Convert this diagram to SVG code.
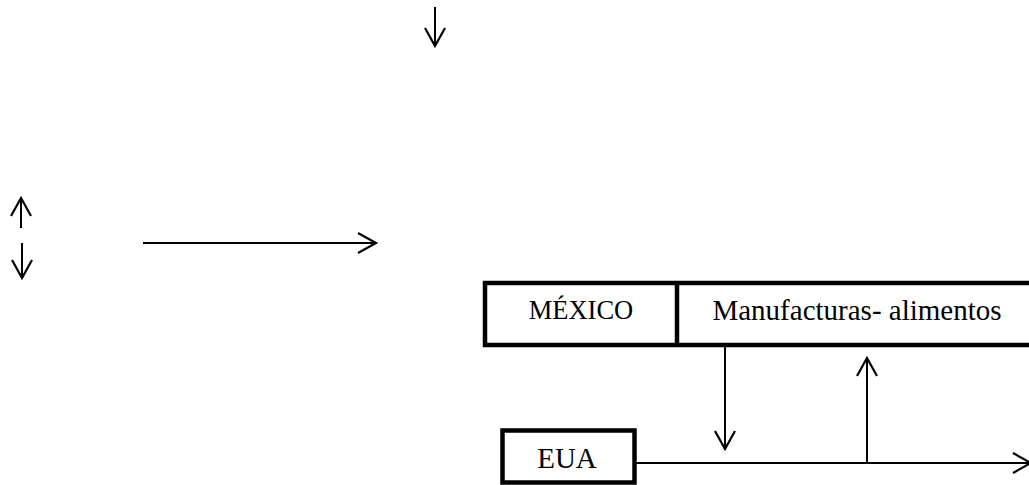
<svg xmlns="http://www.w3.org/2000/svg" width="1029" height="485" viewBox="0 0 1029 485">
  <style>
    .box { fill: #ffffff; stroke: #000000; stroke-width: 4.5; }
    .lbl { font-family: "Liberation Serif", "Times New Roman", serif; fill: #000000; }
    .flow { stroke: #000000; stroke-width: 2; fill: none; }
  </style>
  <defs>
    <marker id="open" markerUnits="userSpaceOnUse" markerWidth="24" markerHeight="24" viewBox="-20 -12 24 24" refX="0" refY="0" orient="auto">
      <path d="M-18,-10 L0,0 L-18,10" fill="none" stroke="#000000" stroke-width="2.2" stroke-linejoin="miter"/>
    </marker>
  </defs>
  <rect width="1029" height="485" fill="#ffffff"/>

  <g id="mexico">
    <rect class="box" x="485" y="283" width="560" height="62"/>
    <line x1="677" y1="283" x2="677" y2="345" stroke="#000000" stroke-width="4.5"/>
    <text class="lbl" x="581" y="319" font-size="26.5" text-anchor="middle">MÉXICO</text>
  </g>

  <g id="manufacturas">
    <text class="lbl" x="857" y="320" font-size="29" text-anchor="middle">Manufacturas- alimentos</text>
  </g>

  <g id="eua">
    <rect class="box" x="502.5" y="430.5" width="132" height="52"/>
    <text class="lbl" x="567" y="468" font-size="29" text-anchor="middle">EUA</text>
  </g>

  <g id="connectors">
    <!-- loose arrows -->
    <line class="flow" x1="435" y1="7" x2="435" y2="46" marker-end="url(#open)"/>
    <line class="flow" x1="21" y1="228" x2="21" y2="198" marker-end="url(#open)"/>
    <line class="flow" x1="22" y1="243" x2="22" y2="278" marker-end="url(#open)"/>
    <line class="flow" x1="143" y1="243" x2="376" y2="243" marker-end="url(#open)"/>
    <!-- exchange flows -->
    <line class="flow" x1="725" y1="346" x2="725" y2="449" marker-end="url(#open)"/>
    <line class="flow" x1="636" y1="463" x2="1031" y2="463" marker-end="url(#open)"/>
    <line class="flow" x1="867" y1="463" x2="867" y2="358" marker-end="url(#open)"/>
  </g>
</svg>
